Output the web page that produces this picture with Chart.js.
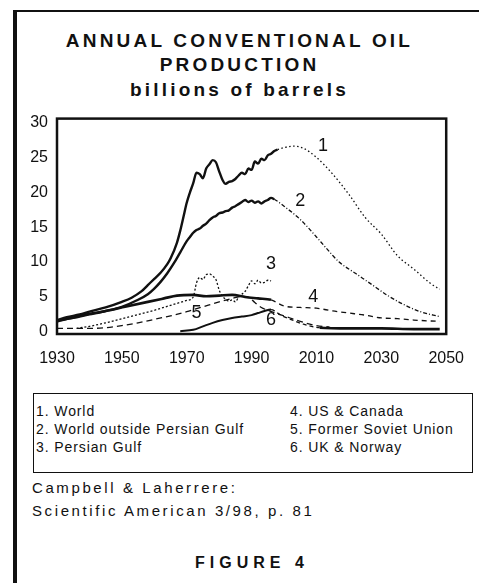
<!DOCTYPE html>
<html>
<head>
<meta charset="utf-8">
<script src="https://cdn.jsdelivr.net/npm/chart.js@4"></script>
<style>
  body { margin: 0; background: #fff; color: #111; font-family: "Liberation Sans", Arial, sans-serif; }
  #page { position: relative; width: 479px; height: 583px; overflow: hidden; }
  #frame { position: absolute; left: 13px; top: 10px; right: -5px; bottom: -5px; border-left: 4px solid #111; border-top: 2px solid #111; }
  .title { position: absolute; left: 0; width: 479px; text-align: center; font-weight: bold; font-size: 19px; line-height: 20px; letter-spacing: 3.2px; }
  #chartBox { position: absolute; left: 0; top: 100px; }
  #legend { position: absolute; left: 33px; top: 393px; width: 438px; height: 78px; border: 1.5px solid #111; font-size: 14px; letter-spacing: 0.9px; line-height: 18px; }
  #legend div { position: absolute; white-space: nowrap; }
  .note { position: absolute; left: 32px; font-size: 15px; letter-spacing: 2.6px; line-height: 23px; }
  #fig { position: absolute; left: 195px; top: 554px; font-weight: bold; font-size: 16px; letter-spacing: 5px; line-height: 18px; }
</style>
</head>
<body>
<div id="page">
  <div id="frame"></div>
  <div class="title" style="top:31px">ANNUAL CONVENTIONAL OIL</div>
  <div class="title" style="top:55px">PRODUCTION</div>
  <div class="title" style="top:80px">billions of barrels</div>
  <div id="chartBox"><canvas id="oil" width="479" height="270"></canvas></div>
  <div id="legend"></div>
  <div class="note" style="top:476px">Campbell &amp; Laherrere:</div>
  <div class="note" style="top:499px">Scientific American 3/98, p. 81</div>
  <div id="fig">FIGURE 4</div>
</div>
<script>
const seriesNames = ['World', 'World outside Persian Gulf', 'Persian Gulf', 'US & Canada', 'Former Soviet Union', 'UK & Norway'];

const worldYears = [1930, 1933, 1937, 1940, 1945, 1950, 1953, 1956, 1958, 1960, 1962, 1964, 1965, 1967, 1968, 1969,
  1970, 1971, 1972, 1973, 1974, 1975, 1976, 1977, 1978, 1979, 1980, 1981, 1982, 1983, 1984, 1985, 1986, 1987, 1988, 1989,
  1990, 1991, 1992, 1993, 1994, 1995, 1996, 1997, 1998, 2000, 2003, 2006, 2010, 2015, 2020, 2025, 2030, 2035, 2040, 2045, 2048];
const world = [1.7, 2.1, 2.5, 2.9, 3.5, 4.3, 4.9, 5.8, 6.7, 7.6, 8.5, 9.7, 10.5, 12.8, 14.5, 16.5,
  18.5, 20.0, 21.3, 22.8, 22.6, 22.0, 23.4, 24.0, 24.6, 24.3, 23.0, 21.8, 21.2, 21.5, 21.6, 21.9, 22.4, 22.8, 22.6, 23.4,
  23.2, 24.4, 24.1, 24.8, 24.6, 25.3, 25.5, 25.9, 26.1, 26.4, 26.6, 26.3, 25.0, 22.6, 19.7, 16.4, 14.0, 10.9, 9.0, 7.0, 6.1];

const nonGulfYears = [1930, 1935, 1940, 1945, 1950, 1955, 1958, 1960, 1962, 1964, 1966, 1968,
  1970, 1971, 1972, 1973, 1974, 1975, 1976, 1977, 1978, 1979, 1980, 1981, 1982, 1983, 1984, 1985, 1986, 1987, 1988, 1989,
  1990, 1991, 1992, 1993, 1994, 1995, 1996, 1997, 2000, 2005, 2010, 2013, 2017, 2022, 2027, 2032, 2037, 2042, 2048];
const nonGulf = [1.6, 2.0, 2.5, 3.0, 3.6, 4.6, 5.4, 6.2, 7.2, 8.4, 9.8, 11.4,
  13.0, 13.6, 14.2, 14.6, 14.8, 15.2, 15.5, 16.0, 16.4, 16.6, 17.0, 17.1, 17.3, 17.4, 17.8, 18.0, 18.3, 18.6, 18.9, 18.6,
  18.8, 18.5, 18.7, 18.4, 18.7, 18.9, 19.2, 19.0, 18.0, 16.1, 13.6, 12.0, 10.0, 8.4, 6.8, 5.2, 3.9, 2.9, 2.2];

const gulfYears = [1936, 1940, 1945, 1950, 1955, 1960, 1965, 1970, 1972, 1973, 1974, 1975, 1976, 1977, 1978, 1979,
  1980, 1981, 1982, 1983, 1984, 1985, 1986, 1987, 1988, 1989, 1990, 1991, 1992, 1993, 1994, 1995, 1996];
const gulf = [0.5, 0.8, 1.3, 1.9, 2.5, 3.1, 3.8, 4.5, 5.0, 7.0, 7.8, 7.5, 8.2, 8.3, 8.0, 7.5,
  6.0, 5.1, 4.7, 4.4, 4.6, 4.3, 5.0, 5.4, 5.8, 6.6, 7.3, 6.9, 7.4, 7.0, 7.1, 7.4, 7.3];

const usCanadaYears = [1930, 1937, 1945, 1951, 1958, 1963, 1967, 1972, 1976, 1980, 1984, 1988, 1992, 1996,
  2000, 2005, 2010, 2015, 2020, 2025, 2030, 2035, 2040, 2048];
const usCanada = [1.5, 2.3, 3.0, 3.6, 4.3, 4.8, 5.2, 5.3, 5.1, 5.2, 5.3, 5.0, 4.8, 4.6,
  3.7, 3.5, 3.4, 3.0, 2.7, 2.4, 2.0, 1.9, 1.7, 1.5];

const fsuYears = [1930, 1940, 1945, 1950, 1955, 1960, 1965, 1970, 1975, 1980, 1984, 1987, 1989, 1991, 1993, 1995,
  2000, 2005, 2010, 2014];
const fsu = [0.5, 0.5, 0.6, 0.9, 1.3, 1.8, 2.3, 2.9, 3.6, 4.3, 4.8, 5.1, 5.0, 4.2, 3.5, 3.1, 2.3, 1.5, 0.9, 0.7];

const ukNorwayYears = [1968, 1972, 1975, 1978, 1981, 1984, 1987, 1990, 1992, 1994, 1996,
  1999, 2002, 2006, 2011, 2020, 2030, 2040, 2048];
const ukNorway = [0.1, 0.3, 0.8, 1.3, 1.7, 2.0, 2.2, 2.4, 2.7, 3.0, 3.2, 2.4, 1.8, 1.1, 0.6, 0.5, 0.5, 0.4, 0.4];

// first forecast year of each series (null = drawn dashed throughout)
const forecastFrom = [1998, 1997, null, 1996, null, 1996];

const xTicks = [1930, 1950, 1970, 1990, 2010, 2030, 2050];
const yTicks = [0, 5, 10, 15, 20, 25, 30];

// where the curve numbers sit, in years / billions of barrels
const numberYears = [2012, 2005, 1996, 2009, 1973, 1996];
const numberValues = [26.6, 18.8, 9.7, 5.0, 2.7, 1.7];

// legend box, two columns
const legendEl = document.getElementById('legend');
seriesNames.forEach((name, i) => {
  const d = document.createElement('div');
  d.textContent = (i + 1) + '. ' + name;
  d.style.left = i < 3 ? '2px' : '256px';
  d.style.top = (8 + (i % 3) * 18) + 'px';
  legendEl.appendChild(d);
});

function pts(xs, ys) {
  return xs.map((x, i) => ({ x: x, y: ys[i] }));
}

const allYears = [worldYears, nonGulfYears, gulfYears, usCanadaYears, fsuYears, ukNorwayYears];
const allValues = [world, nonGulf, gulf, usCanada, fsu, ukNorway];
const histWidth = [2.4, 2.4, 1.3, 2.6, 1.3, 2.0];
const futureDash = [[1.5, 2.5], [4, 2, 1, 2], [2, 2], [5, 4], [6, 4], [4, 3]];

const datasets = seriesNames.map((name, i) => {
  const from = forecastFrom[i];
  const future = c => from === null || c.p0.parsed.x >= from;
  return {
    label: name,
    data: pts(allYears[i], allValues[i]),
    borderColor: '#111',
    borderWidth: histWidth[i],
    pointRadius: 0,
    cubicInterpolationMode: 'monotone',
    segment: {
      borderDash: c => {
        // UK & Norway flattens into a heavy line along the bottom
        if (i === 5 && c.p0.parsed.x >= 2011) return undefined;
        return future(c) ? futureDash[i] : undefined;
      },
      borderWidth: c => {
        if (i === 5 && c.p0.parsed.x >= 2011) return 2.6;
        if (from === null) return histWidth[i];
        return future(c) ? 1.3 : histWidth[i];
      },
    },
  };
});

const curveNumbers = {
  id: 'curveNumbers',
  afterDatasetsDraw(chart) {
    const { ctx, chartArea: a, scales: { x, y } } = chart;
    ctx.save();
    ctx.font = '18px "Liberation Sans", Arial, sans-serif';
    ctx.fillStyle = '#111';
    ctx.textAlign = 'center';
    ctx.textBaseline = 'middle';
    numberYears.forEach((yr, i) => {
      ctx.fillText(String(i + 1), x.getPixelForValue(yr), y.getPixelForValue(numberValues[i]));
    });
    ctx.lineWidth = 2.5;
    ctx.strokeStyle = '#111';
    ctx.strokeRect(a.left, a.top, a.right - a.left, a.bottom - a.top);
    ctx.restore();
  },
};

const tickFont = { family: '"Liberation Sans", Arial, sans-serif', size: 16 };

new Chart(document.getElementById('oil').getContext('2d'), {
  type: 'line',
  data: { datasets: datasets },
  plugins: [curveNumbers],
  options: {
    responsive: false,
    animation: false,
    layout: { padding: { top: 14, right: 28, left: 0, bottom: 0 } },
    scales: {
      x: {
        type: 'linear',
        min: 1930,
        max: 2050,
        grid: { display: false, drawTicks: false },
        border: { display: false },
        afterBuildTicks: s => { s.ticks = xTicks.map(v => ({ value: v })); },
        afterFit: s => { s.height = 36; },
        ticks: {
          autoSkip: false,
          maxRotation: 0,
          padding: 15,
          color: '#111',
          font: tickFont,
          callback: v => String(v),
        },
      },
      y: {
        min: -0.3,
        max: 30.55,
        grid: { display: false, drawTicks: false },
        border: { display: false },
        afterBuildTicks: s => { s.ticks = yTicks.map(v => ({ value: v })); },
        afterFit: s => { s.width = 57; },
        ticks: {
          padding: 9,
          color: '#111',
          font: tickFont,
          callback: v => String(v),
        },
      },
    },
    plugins: {
      legend: { display: false },
      tooltip: { enabled: false },
    },
  },
});
</script>
</body>
</html>
